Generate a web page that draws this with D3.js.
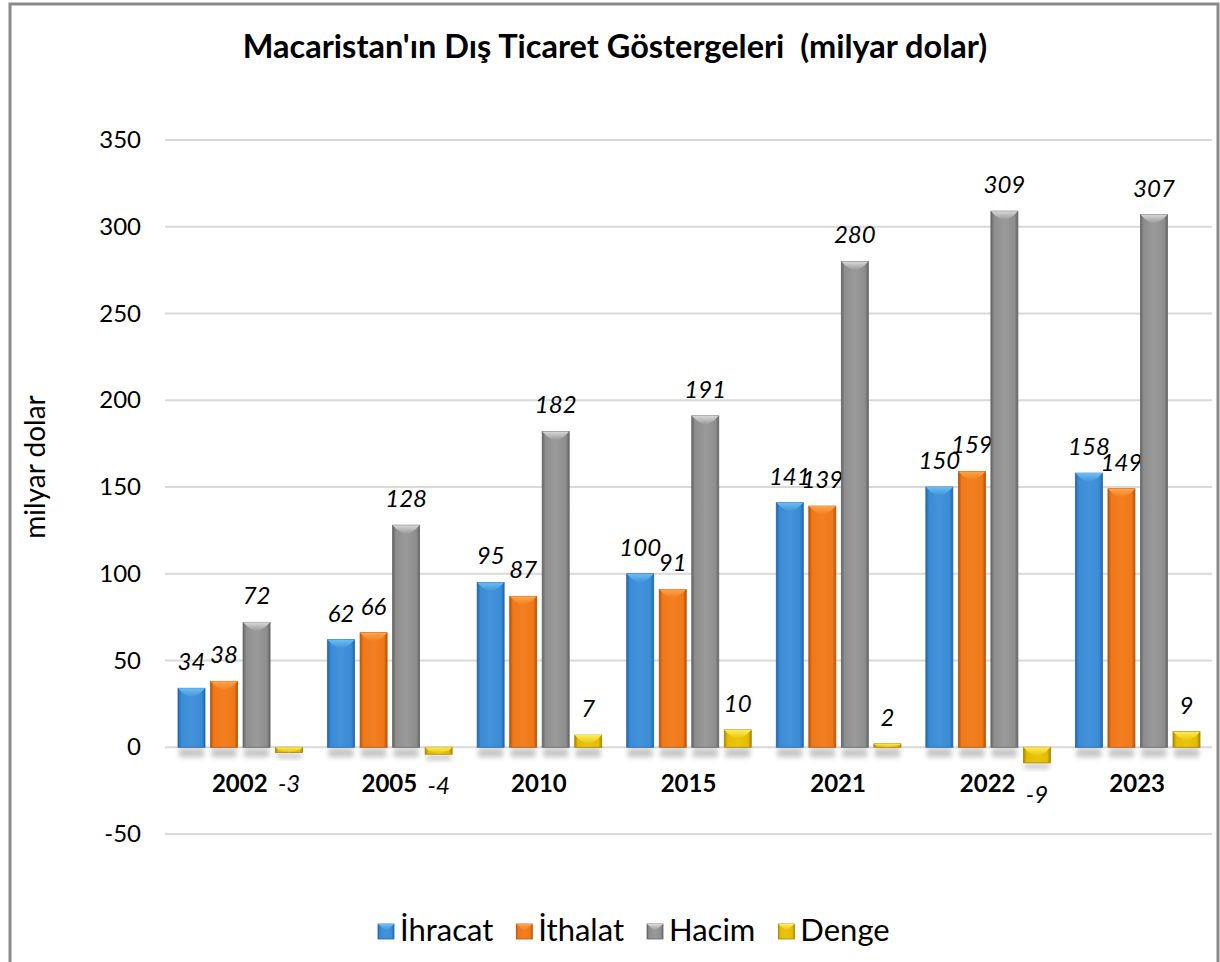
<!DOCTYPE html>
<html>
<head>
<meta charset="utf-8">
<script src="https://cdn.jsdelivr.net/npm/d3@7"></script>
<style>
  body { margin: 0; background: #fff; }
  text { font-family: Lato, "Liberation Sans", sans-serif; fill: #000; }
</style>
</head>
<body>
<div id="chart"></div>
<script>
// chart values
var years = ["2002", "2005", "2010", "2015", "2021", "2022", "2023"];
var seriesNames = ["İhracat", "İthalat", "Hacim", "Denge"];
var ihracat = [34, 62, 95, 100, 141, 150, 158];
var ithalat = [38, 66, 87, 91, 139, 159, 149];
var hacim = [72, 128, 182, 191, 280, 309, 307];
var denge = [-3, -4, 7, 10, 2, -9, 9];
var yTicks = [-50, 0, 50, 100, 150, 200, 250, 300, 350];

var values = [ihracat, ithalat, hacim, denge];

var width = 1220,
    height = 962;

// colours per series: edge, body, highlight
var colors = [
    {dark: "#2166ac", base: "#3b8bd6", light: "#6fc0f6"},
    {dark: "#b8520a", base: "#f07818", light: "#ffa64d"},
    {dark: "#646464", base: "#8e8e8e", light: "#dcdcdc"},
    {dark: "#a88600", base: "#e6bc00", light: "#fff05a"}
];

var svg = d3.select("#chart").append("svg")
    .attr("width", width)
    .attr("height", height);

var defs = svg.append("defs");

colors.forEach(function(c, i) {
    var g = defs.append("linearGradient")
        .attr("id", "side" + i)
        .attr("x1", "0").attr("x2", "1").attr("y1", "0").attr("y2", "0");
    g.append("stop").attr("offset", "0%").attr("stop-color", c.dark);
    g.append("stop").attr("offset", "12%").attr("stop-color", c.base);
    g.append("stop").attr("offset", "50%").attr("stop-color", d3.interpolateRgb(c.base, c.light)(0.15));
    g.append("stop").attr("offset", "88%").attr("stop-color", c.base);
    g.append("stop").attr("offset", "100%").attr("stop-color", c.dark);

    var t = defs.append("linearGradient")
        .attr("id", "top" + i)
        .attr("x1", "0").attr("x2", "0").attr("y1", "0").attr("y2", "1");
    t.append("stop").attr("offset", "0%").attr("stop-color", c.light);
    t.append("stop").attr("offset", "100%").attr("stop-color", c.base);
});

var blur = defs.append("filter").attr("id", "shadow")
    .attr("x", "-20%").attr("y", "-50%").attr("width", "140%").attr("height", "200%");
blur.append("feGaussianBlur").attr("stdDeviation", 2.5);

// outer frame
svg.append("rect")
    .attr("x", 10).attr("y", 4)
    .attr("width", 1208).attr("height", 980)
    .attr("fill", "none")
    .attr("stroke", "#8a8a8a")
    .attr("stroke-width", 3);

// title
svg.append("text")
    .attr("x", 615).attr("y", 58)
    .attr("text-anchor", "middle")
    .style("font-size", "32.5px")
    .style("font-weight", "bold")
    .style("white-space", "pre")
    .text("Macaristan'ın Dış Ticaret Göstergeleri  (milyar dolar)");

var y = d3.scaleLinear()
    .domain([-50, 350])
    .range([834, 140]);

var x0 = d3.scaleBand()
    .domain(years)
    .range([165, 1212]);

var x1 = d3.scaleBand()
    .domain(seriesNames)
    .range([13, x0.bandwidth() - 12])
    .paddingInner(0.17);

// gridlines
svg.append("g")
    .selectAll("line")
    .data(yTicks)
    .enter().append("line")
    .attr("x1", 165).attr("x2", 1212)
    .attr("y1", function(d) { return y(d); })
    .attr("y2", function(d) { return y(d); })
    .attr("stroke", "#d9d9d9")
    .attr("stroke-width", 2);

// y axis labels
var yAxis = d3.axisLeft(y)
    .tickValues(yTicks)
    .tickFormat(function(d) { return String(d); })
    .tickSize(0)
    .tickPadding(0);

var yg = svg.append("g")
    .attr("transform", "translate(141,0)")
    .call(yAxis);
yg.select(".domain").remove();
yg.selectAll("text")
    .style("font-family", "Lato, 'Liberation Sans', sans-serif")
    .style("font-size", "24px")
    .attr("fill", "#000");

// y axis title
svg.append("text")
    .attr("transform", "translate(45,467) rotate(-90)")
    .attr("text-anchor", "middle")
    .style("font-size", "28px")
    .text("milyar dolar");

// bars
var groups = svg.append("g")
    .selectAll("g")
    .data(years)
    .enter().append("g")
    .attr("transform", function(d) { return "translate(" + x0(d) + ",0)"; });

var barData = function(d, yi) {
    return seriesNames.map(function(s, si) {
        return {series: s, si: si, value: values[si][yi]};
    });
};

var bars = groups.selectAll("g.bar")
    .data(function(d, yi) { return barData(d, yi); })
    .enter().append("g")
    .attr("class", "bar");

// soft shadow under each bar
bars.append("rect")
    .attr("x", function(d) { return x1(d.series) + 1; })
    .attr("y", function(d) { return d.value >= 0 ? y(0) + 1 : y(d.value) + 1; })
    .attr("width", x1.bandwidth() - 2)
    .attr("height", function(d) { return d.value >= 0 ? 9 : 5; })
    .attr("fill", "#000")
    .attr("opacity", 0.22)
    .attr("filter", "url(#shadow)");

bars.append("rect")
    .attr("x", function(d) { return x1(d.series); })
    .attr("y", function(d) { return y(Math.max(0, d.value)); })
    .attr("width", x1.bandwidth())
    .attr("height", function(d) { return Math.abs(y(d.value) - y(0)); })
    .attr("fill", function(d) { return "url(#side" + d.si + ")"; })
    .attr("stroke", function(d) { return colors[d.si].dark; })
    .attr("stroke-width", 0.8);

// top bevel
bars.append("path")
    .attr("d", function(d) {
        var bx = x1(d.series), bw = x1.bandwidth();
        var top = y(Math.max(0, d.value));
        var h = Math.min(10, Math.abs(y(d.value) - y(0)));
        return "M" + bx + "," + top +
            "L" + (bx + bw) + "," + top +
            "L" + (bx + bw - h * 0.45) + "," + (top + h * 0.45) +
            "L" + (bx + bw / 2) + "," + (top + h) +
            "L" + (bx + h * 0.45) + "," + (top + h * 0.45) + "Z";
    })
    .attr("fill", function(d) { return "url(#top" + d.si + ")"; })
    .attr("opacity", 0.95);

// value labels
bars.append("text")
    .attr("x", function(d) { return x1(d.series) + x1.bandwidth() / 2; })
    .attr("y", function(d) { return d.value >= 0 ? y(d.value) - 18 : y(d.value) + 40; })
    .attr("text-anchor", "middle")
    .style("font-size", "24px")
    .style("font-style", "italic")
    .text(function(d) { return d.value; });

// category labels
svg.append("g")
    .selectAll("text")
    .data(years)
    .enter().append("text")
    .attr("x", function(d) { return x0(d) + x0.bandwidth() / 2; })
    .attr("y", y(0) + 45)
    .attr("text-anchor", "middle")
    .style("font-size", "24px")
    .style("font-weight", "bold")
    .text(function(d) { return d; });

// legend
var legend = svg.append("g");
var lx = 378;
seriesNames.forEach(function(s, i) {
    legend.append("rect")
        .attr("x", lx).attr("y", 924)
        .attr("width", 16).attr("height", 15)
        .attr("fill", "url(#side" + i + ")")
        .attr("stroke", colors[i].dark)
        .attr("stroke-width", 0.8);
    legend.append("path")
        .attr("d", "M" + lx + ",924L" + (lx + 16) + ",924L" + (lx + 8) + ",931Z")
        .attr("fill", "url(#top" + i + ")");
    var t = legend.append("text")
        .attr("x", lx + 22).attr("y", 941)
        .style("font-size", "31px")
        .text(s);
    lx += 22 + t.node().getComputedTextLength() + 23;
});
</script>
</body>
</html>
